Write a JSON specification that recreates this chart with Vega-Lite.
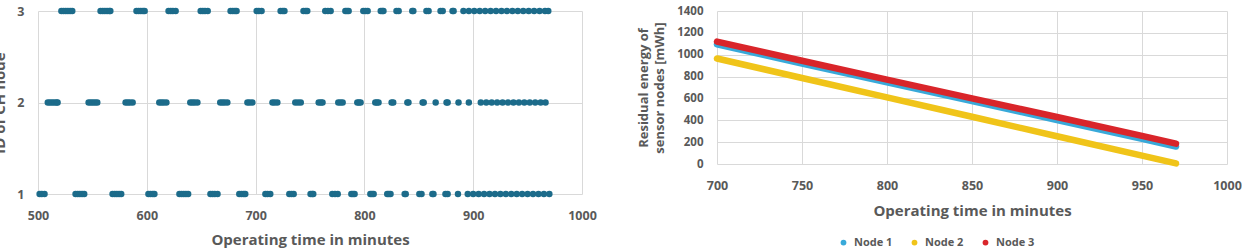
{
"$schema": "https://vega.github.io/schema/vega-lite/v6.json",
"padding": {"left": -8, "top": 5, "right": 0, "bottom": 0},
"background": "white",
"bounds": "flush",
"spacing": 135,
"resolve": {"legend": {"color": "independent"}, "scale": {"x": "independent", "y": "independent"}},
"config": {
 "view": {"stroke": null},
 "font": "Open Sans",
 "axis": {"labelColor": "#595959", "titleColor": "#595959", "labelFontWeight": "bold", "titleFontWeight": "bold", "gridColor": "#d9d9d9", "gridWidth": 1, "domain": false, "ticks": false, "labelFlush": false, "labelOverlap": false}
},
"datasets": {
 "ch": [
{"t":501.5,"id":1},{"t":503.5,"id":1},{"t":506,"id":1},{"t":534.5,"id":1},{"t":536.5,"id":1},{"t":538.5,"id":1},{"t":540.5,"id":1},{"t":542.5,"id":1},{"t":568.5,"id":1},{"t":570.5,"id":1},{"t":572.5,"id":1},{"t":574.5,"id":1},{"t":576.5,"id":1},{"t":601.5,"id":1},{"t":603.5,"id":1},{"t":605.5,"id":1},{"t":607,"id":1},{"t":630,"id":1},{"t":632,"id":1},{"t":634,"id":1},{"t":636,"id":1},{"t":638,"id":1},{"t":658.5,"id":1},{"t":660.5,"id":1},{"t":662.5,"id":1},{"t":665,"id":1},{"t":685,"id":1},{"t":687,"id":1},{"t":689,"id":1},{"t":690.5,"id":1},{"t":709,"id":1},{"t":711,"id":1},{"t":713.5,"id":1},{"t":731,"id":1},{"t":733,"id":1},{"t":735,"id":1},{"t":750.5,"id":1},{"t":752,"id":1},{"t":753,"id":1},{"t":770.5,"id":1},{"t":773,"id":1},{"t":775.5,"id":1},{"t":788,"id":1},{"t":789.5,"id":1},{"t":791,"id":1},{"t":805.5,"id":1},{"t":807,"id":1},{"t":808.5,"id":1},{"t":821,"id":1},{"t":822.5,"id":1},{"t":824,"id":1},{"t":837,"id":1},{"t":838,"id":1},{"t":850.5,"id":1},{"t":852.5,"id":1},{"t":862.5,"id":1},{"t":863.5,"id":1},{"t":874.5,"id":1},{"t":876.5,"id":1},{"t":886,"id":1},{"t":895,"id":1},{"t":900,"id":1},{"t":905,"id":1},{"t":910,"id":1},{"t":915,"id":1},{"t":920,"id":1},{"t":925,"id":1},{"t":930,"id":1},{"t":935,"id":1},{"t":940,"id":1},{"t":945,"id":1},{"t":950,"id":1},{"t":955,"id":1},{"t":960,"id":1},{"t":965,"id":1},{"t":970,"id":1},
{"t":509,"id":2},{"t":511,"id":2},{"t":513,"id":2},{"t":515,"id":2},{"t":517,"id":2},{"t":518,"id":2},{"t":546.5,"id":2},{"t":548.5,"id":2},{"t":550.5,"id":2},{"t":552.5,"id":2},{"t":554.5,"id":2},{"t":580.5,"id":2},{"t":582.5,"id":2},{"t":584.5,"id":2},{"t":587,"id":2},{"t":611.5,"id":2},{"t":613.5,"id":2},{"t":615.5,"id":2},{"t":618,"id":2},{"t":640,"id":2},{"t":642,"id":2},{"t":644,"id":2},{"t":646.5,"id":2},{"t":667.5,"id":2},{"t":669.5,"id":2},{"t":671.5,"id":2},{"t":674,"id":2},{"t":692.5,"id":2},{"t":694.5,"id":2},{"t":697,"id":2},{"t":715.5,"id":2},{"t":717.5,"id":2},{"t":720,"id":2},{"t":736.5,"id":2},{"t":739,"id":2},{"t":741.5,"id":2},{"t":758,"id":2},{"t":760,"id":2},{"t":761.5,"id":2},{"t":776,"id":2},{"t":778,"id":2},{"t":780,"id":2},{"t":793.5,"id":2},{"t":795,"id":2},{"t":796.5,"id":2},{"t":810,"id":2},{"t":811.5,"id":2},{"t":813,"id":2},{"t":825,"id":2},{"t":826.5,"id":2},{"t":839.5,"id":2},{"t":840.5,"id":2},{"t":853.5,"id":2},{"t":854.5,"id":2},{"t":865.5,"id":2},{"t":875.5,"id":2},{"t":876.5,"id":2},{"t":886.5,"id":2},{"t":896,"id":2},{"t":907,"id":2},{"t":912,"id":2},{"t":917,"id":2},{"t":922,"id":2},{"t":927,"id":2},{"t":932,"id":2},{"t":937,"id":2},{"t":942,"id":2},{"t":947,"id":2},{"t":952,"id":2},{"t":957,"id":2},{"t":962,"id":2},{"t":966.5,"id":2},
{"t":521.5,"id":3},{"t":523.5,"id":3},{"t":525.5,"id":3},{"t":527.5,"id":3},{"t":529.5,"id":3},{"t":531.5,"id":3},{"t":557.5,"id":3},{"t":559.5,"id":3},{"t":561.5,"id":3},{"t":563.5,"id":3},{"t":565.5,"id":3},{"t":566.5,"id":3},{"t":590.5,"id":3},{"t":592.5,"id":3},{"t":594.5,"id":3},{"t":596.5,"id":3},{"t":598,"id":3},{"t":620,"id":3},{"t":622,"id":3},{"t":624,"id":3},{"t":626.5,"id":3},{"t":649.5,"id":3},{"t":651.5,"id":3},{"t":653.5,"id":3},{"t":656,"id":3},{"t":677,"id":3},{"t":679,"id":3},{"t":681,"id":3},{"t":682.5,"id":3},{"t":701,"id":3},{"t":703,"id":3},{"t":705.5,"id":3},{"t":723,"id":3},{"t":725,"id":3},{"t":726.5,"id":3},{"t":744,"id":3},{"t":746,"id":3},{"t":747.5,"id":3},{"t":764,"id":3},{"t":766.5,"id":3},{"t":769,"id":3},{"t":782.5,"id":3},{"t":784,"id":3},{"t":785.5,"id":3},{"t":799,"id":3},{"t":801,"id":3},{"t":803,"id":3},{"t":815,"id":3},{"t":816.5,"id":3},{"t":817.5,"id":3},{"t":829.5,"id":3},{"t":831.5,"id":3},{"t":844,"id":3},{"t":845,"id":3},{"t":857,"id":3},{"t":859,"id":3},{"t":870,"id":3},{"t":872,"id":3},{"t":881,"id":3},{"t":882,"id":3},{"t":891,"id":3},{"t":896,"id":3},{"t":901,"id":3},{"t":906,"id":3},{"t":911,"id":3},{"t":916,"id":3},{"t":921,"id":3},{"t":926,"id":3},{"t":931,"id":3},{"t":936,"id":3},{"t":941,"id":3},{"t":946,"id":3},{"t":951,"id":3},{"t":956,"id":3},{"t":961,"id":3},{"t":966,"id":3},{"t":969,"id":3}
 ],
 "energy": [
{"t":700,"node":"Node 1","e":1095},{"t":750,"node":"Node 1","e":920},{"t":800,"node":"Node 1","e":748},{"t":850,"node":"Node 1","e":575},{"t":900,"node":"Node 1","e":403},{"t":950,"node":"Node 1","e":230},{"t":970,"node":"Node 1","e":160},
{"t":700,"node":"Node 2","e":965},{"t":750,"node":"Node 2","e":787},{"t":800,"node":"Node 2","e":610},{"t":850,"node":"Node 2","e":432},{"t":900,"node":"Node 2","e":254},{"t":950,"node":"Node 2","e":76},{"t":970,"node":"Node 2","e":5},
{"t":700,"node":"Node 3","e":1120},{"t":750,"node":"Node 3","e":945},{"t":800,"node":"Node 3","e":772},{"t":850,"node":"Node 3","e":600},{"t":900,"node":"Node 3","e":430},{"t":950,"node":"Node 3","e":258},{"t":970,"node":"Node 3","e":186}
 ]
},
"hconcat": [
 {
  "width": 544, "height": 183,
  "data": {"name": "ch"},
  "mark": {"type": "circle", "size": 42, "opacity": 1, "color": "#1c6b8a"},
  "encoding": {
   "x": {"field": "t", "type": "quantitative", "scale": {"domain": [500, 1000], "nice": false, "zero": false},
         "axis": {"values": [500, 600, 700, 800, 900, 1000], "format": "d", "title": "Operating time in minutes", "labelPadding": 15, "titlePadding": 11, "titleFontSize": 15, "labelFontSize": 12.5}},
   "y": {"field": "id", "type": "ordinal", "scale": {"type": "point", "padding": 0, "domain": [3, 2, 1]},
         "axis": {"grid": true, "labelAngle": 0, "title": "ID of CH node", "labelPadding": 14, "titlePadding": 9, "titleFontSize": 15, "labelFontSize": 12.5}}
  }
 },
 {
  "width": 510, "height": 153,
  "data": {"name": "energy"},
  "mark": {"type": "line", "strokeWidth": 6.5, "strokeCap": "round"},
  "encoding": {
   "x": {"field": "t", "type": "quantitative", "scale": {"domain": [700, 1000], "nice": false, "zero": false},
         "axis": {"values": [700, 750, 800, 850, 900, 950, 1000], "format": "d", "title": "Operating time in minutes", "labelPadding": 15, "titlePadding": 12, "titleFontSize": 15, "labelFontSize": 12.5}},
   "y": {"field": "e", "type": "quantitative", "scale": {"domain": [0, 1400], "nice": false},
         "axis": {"values": [0, 200, 400, 600, 800, 1000, 1200, 1400], "format": "d", "title": ["Residual energy of", "sensor nodes [mWh]"], "labelPadding": 14, "titlePadding": 10, "titleFontSize": 13, "titleLineHeight": 16, "labelFontSize": 11.5}},
   "color": {"field": "node", "type": "nominal",
             "scale": {"domain": ["Node 1", "Node 2", "Node 3"], "range": ["#38a9d9", "#f0c419", "#d9252a"]},
             "legend": {"orient": "none", "legendX": 121, "legendY": 226, "direction": "horizontal", "title": null, "symbolType": "circle", "symbolSize": 8, "symbolStrokeWidth": 3, "labelFontSize": 11, "labelFontWeight": "bold", "labelColor": "#595959", "columnPadding": 14, "labelOffset": 5}}
  }
 }
]
}
